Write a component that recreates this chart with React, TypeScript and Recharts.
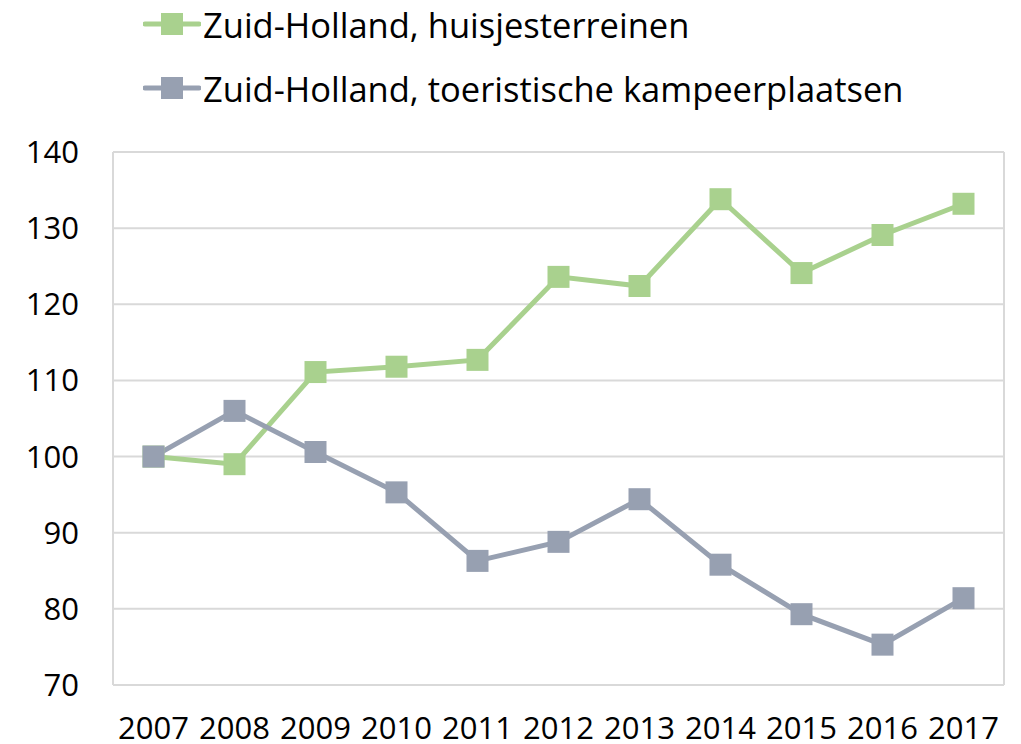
import { LineChart, Line, XAxis, YAxis, CartesianGrid } from "recharts";

const years = ["2007", "2008", "2009", "2010", "2011", "2012", "2013", "2014", "2015", "2016", "2017"];
const huisjes = [100, 99.0, 111.1, 111.8, 112.7, 123.6, 122.4, 133.8, 124.1, 129.1, 133.2];
const kampeer = [100, 106.0, 100.6, 95.3, 86.3, 88.8, 94.4, 85.8, 79.3, 75.3, 81.4];
const yTicks = [70, 80, 90, 100, 110, 120, 130, 140];

const GREEN = "#A9D18E";
const GRAY = "#97A0B1";
const FONT = "'Open Sans', sans-serif";

const data = years.map((y, i) => ({ year: y, huisjes: huisjes[i], kampeer: kampeer[i] }));

const SquareDot = (props: any) => {
  const { cx, cy, fill } = props;
  if (cx == null || cy == null) return null;
  return <rect x={cx - 11} y={cy - 11} width={22} height={22} fill={fill} />;
};

const LegendRow = ({ color, label, top }: { color: string; label: string; top: number }) => (
  <div style={{ position: "absolute", left: 143, top, display: "flex", alignItems: "center", height: 40 }}>
    <svg width={58} height={24}>
      <line x1={2} y1={12} x2={56} y2={12} stroke={color} strokeWidth={5} strokeLinecap="round" />
      <rect x={18} y={1} width={22} height={22} fill={color} />
    </svg>
    <span style={{ fontFamily: FONT, fontSize: 34.5, color: "#000", marginLeft: 2, whiteSpace: "nowrap" }}>{label}</span>
  </div>
);

export default function App() {
  return (
    <div style={{ position: "absolute", left: 0, top: 0, width: 1021, height: 744, background: "#fff" }}>
      <LegendRow color={GREEN} label="Zuid-Holland, huisjesterreinen" top={4} />
      <LegendRow color={GRAY} label="Zuid-Holland, toeristische kampeerplaatsen" top={68} />
      <LineChart width={1021} height={744} data={data} margin={{ top: 152, right: 17, left: 0, bottom: 0 }}>
        <CartesianGrid
          stroke="#D9D9D9"
          strokeWidth={2}
          verticalCoordinatesGenerator={({ offset }: any) => [offset.left, offset.left + offset.width]}
        />
        <XAxis
          dataKey="year"
          height={59}
          padding={{ left: 40.5, right: 40.5 }}
          tickLine={false}
          tickSize={0}
          tickMargin={32}
          axisLine={{ stroke: "#D9D9D9", strokeWidth: 2 }}
          tick={{ fill: "#000", fontSize: 31, fontFamily: FONT }}
          interval={0}
        />
        <YAxis
          width={113}
          domain={[70, 140]}
          ticks={yTicks}
          tickLine={false}
          tickSize={0}
          tickMargin={34}
          axisLine={{ stroke: "#D9D9D9", strokeWidth: 2 }}
          tick={{ fill: "#000", fontSize: 31, fontFamily: FONT }}
        />
        <Line
          type="linear"
          dataKey="huisjes"
          stroke={GREEN}
          strokeWidth={5}
          dot={<SquareDot fill={GREEN} />}
          isAnimationActive={false}
        />
        <Line
          type="linear"
          dataKey="kampeer"
          stroke={GRAY}
          strokeWidth={5}
          dot={<SquareDot fill={GRAY} />}
          isAnimationActive={false}
        />
      </LineChart>
    </div>
  );
}
